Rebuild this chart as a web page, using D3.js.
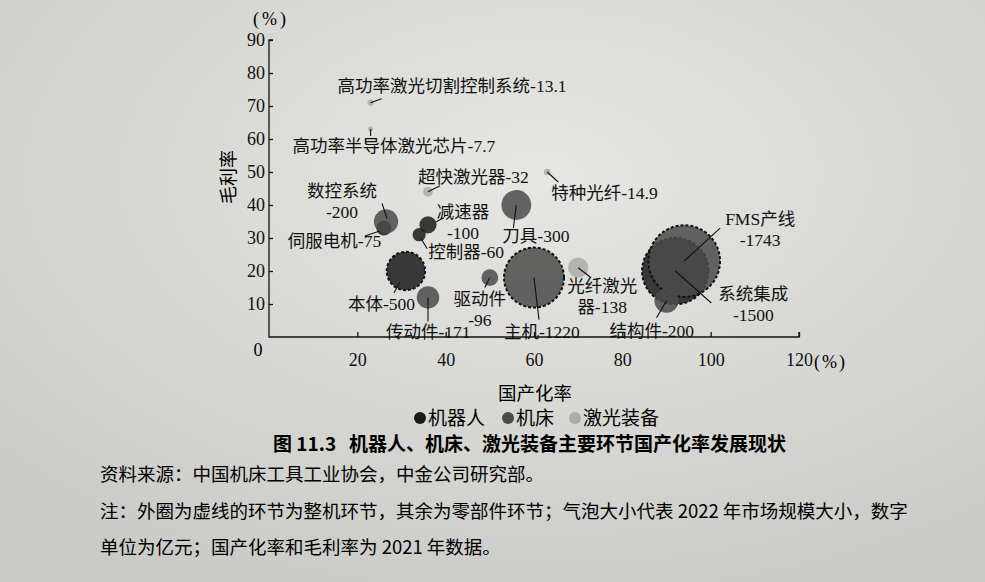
<!DOCTYPE html>
<meta charset="utf-8">
<style>
body { margin: 0; background: #d9d9d5; }
svg { display: block; }
.tick text { font: 18px "Liberation Serif", serif; fill: #111; }
.lbl { font: 17.5px "Liberation Serif", "Noto Sans CJK SC", sans-serif; fill: #111; }
.axis line { stroke: #111; stroke-width: 1.3px; }
.axis .domain { display: none; }
</style>
<body>
<script src="https://d3js.org/d3.v7.min.js"></script>
<script>
// data: name, domestic rate (%), gross margin (%), market size 2022 (亿元), group, whole-machine?
var names   = ["本体", "系统集成", "减速器", "控制器", "伺服电机",
               "数控系统", "传动件", "驱动件", "主机", "刀具", "FMS产线", "结构件",
               "光纤激光器", "高功率激光切割控制系统", "高功率半导体激光芯片", "超快激光器", "特种光纤"];
var rate    = [31, 92, 36, 34, 26,  26.5, 36, 50, 60, 56, 94, 90,  70, 23, 23, 36, 63];
var margin_ = [20, 20, 34, 31, 33,  35, 12, 18, 18, 40, 23, 11,  21, 71, 63, 44, 50];
var sizes   = [500, 1500, 100, 60, 75,  200, 171, 96, 1220, 300, 1743, 200,  138, 13.1, 7.7, 32, 14.9];
var groups  = ["机器人", "机器人", "机器人", "机器人", "机器人",
               "机床", "机床", "机床", "机床", "机床", "机床", "机床",
               "激光装备", "激光装备", "激光装备", "激光装备", "激光装备"];
var whole   = [1, 1, 0, 0, 0,  0, 0, 0, 1, 0, 1, 0,  0, 0, 0, 0, 0];
var categories = ["机器人", "机床", "激光装备"];
var xTicks = [20, 40, 60, 80, 100, 120];
var yTicks = [10, 20, 30, 40, 50, 60, 70, 80, 90];

// label layout: text lines, text offset from bubble centre, anchor, leader line offsets
var labelLayout = {
  "高功率激光切割控制系统": {lines: ["高功率激光切割控制系统-13.1"], dx: -33, dy: -11, a: "start", lead: [0, 0, 11, -4]},
  "高功率半导体激光芯片": {lines: ["高功率半导体激光芯片-7.7"], dx: -78, dy: 23, a: "start", lead: [0, 0, 0, 7]},
  "超快激光器": {lines: ["超快激光器-32"], dx: -10, dy: -9, a: "start", lead: [0, 0, 12, -6]},
  "特种光纤": {lines: ["特种光纤-14.9"], dx: 4, dy: 27, a: "start", lead: [0, 0, 11, 10]},
  "数控系统": {lines: ["数控系统", "-200"], dx: -44, dy: -25, a: "middle", lead: [-4, -18, 1, -3]},
  "伺服电机": {lines: ["伺服电机-75"], dx: -96, dy: 19, a: "start", lead: [-19, 8, -4, 3]},
  "减速器": {lines: ["减速器", "-100"], dx: 35, dy: -7, a: "middle", lead: [8, -3, 16, -7]},
  "控制器": {lines: ["控制器-60"], dx: 9, dy: 23, a: "start", lead: [2, 4, 8, 14]},
  "本体": {lines: ["本体-500"], dx: -58, dy: 39, a: "start", lead: [-6, 11, -12, 22]},
  "传动件": {lines: ["传动件-171"], dx: -42, dy: 41, a: "start", lead: [0, 0, 0, 24]},
  "驱动件": {lines: ["驱动件", "-96"], dx: -10, dy: 27, a: "middle", lead: [0, 0, -5, 10]},
  "主机": {lines: ["主机-1220"], dx: -30, dy: 60, a: "start", lead: [0, 0, 5, 42]},
  "刀具": {lines: ["刀具-300"], dx: -14, dy: 37, a: "start", lead: [0, 0, -3, 23]},
  "光纤激光器": {lines: ["光纤激光", "器-138"], dx: 24, dy: 24, a: "middle", lead: [0, 0, 13, 10]},
  "FMS产线": {lines: ["FMS产线", "-1743"], dx: 76, dy: -36, a: "middle", lead: [0, 0, 36, -33]},
  "系统集成": {lines: ["系统集成", "-1500"], dx: 78, dy: 29, a: "middle", lead: [0, 0, 36, 32]},
  "结构件": {lines: ["结构件-200"], dx: -57, dy: 36, a: "start", lead: [0, 0, -10, 17]}
};

var W = 985, H = 582;
var svg = d3.select("body").append("svg").attr("width", W).attr("height", H);

// paper-like background
var grad = svg.append("defs").append("radialGradient").attr("id", "paper")
    .attr("cx", "0.55").attr("cy", "0.3").attr("r", "0.8");
grad.append("stop").attr("offset", "0%").attr("stop-color", "#e6e6e2");
grad.append("stop").attr("offset", "100%").attr("stop-color", "#c9c9c5");
svg.append("rect").attr("width", W).attr("height", H).attr("fill", "url(#paper)");

var x = d3.scaleLinear().domain([0, 120]).range([269, 799]);
var y = d3.scaleLinear().domain([0, 90]).range([337, 40]);
var r = d3.scaleSqrt().domain([0, 1220]).range([0, 30]);
var color = d3.scaleOrdinal().domain(categories).range(["#1b1b1b", "#4b4b4b", "#aaaaa8"]);

// axes
svg.append("g").attr("class", "axis")
    .attr("transform", "translate(0," + y(0) + ")")
    .call(d3.axisBottom(x).tickValues(xTicks).tickSize(-5).tickPadding(16));
svg.append("g").attr("class", "axis")
    .attr("transform", "translate(" + x(0) + ",0)")
    .call(d3.axisLeft(y).tickValues(yTicks).tickSize(-4).tickPadding(4));
svg.append("path")
    .attr("d", "M" + (x(0) + 4) + "," + y(90) + "H" + x(0) + "V" + y(0) + "H" + x(120) + "V" + (y(0) - 5))
    .attr("fill", "none").attr("stroke", "#111").attr("stroke-width", 1.3);

svg.append("text").attr("x", x(0) - 11).attr("y", y(0) + 19)
    .attr("text-anchor", "middle").style("font", "18px 'Liberation Serif', serif").text("0");
svg.append("text").attr("x", x(120) + 15).attr("y", y(0) + 31)
    .style("font", "18px 'Liberation Serif', serif").style("letter-spacing", "2px").text("(%)");
svg.append("text").attr("x", 271).attr("y", 25).attr("text-anchor", "middle")
    .style("font", "18px 'Liberation Serif', serif").style("letter-spacing", "3px").text("(%)");
svg.append("text").attr("x", 535).attr("y", 400).attr("text-anchor", "middle")
    .style("font", "18.5px 'Noto Sans CJK SC', sans-serif").text("国产化率");
svg.append("text").attr("transform", "translate(235,177) rotate(-90)").attr("text-anchor", "middle")
    .style("font", "18px 'Noto Sans CJK SC', sans-serif").text("毛利率");

// bubbles
var data = names.map(function(n, i) {
  return {name: n, x: rate[i], y: margin_[i], v: sizes[i], g: groups[i], whole: whole[i]};
});
var drawOrder = data.slice().sort(function(a, b) {
  return categories.indexOf(a.g) - categories.indexOf(b.g);
});
svg.append("g").selectAll("circle").data(drawOrder).enter().append("circle")
    .attr("cx", function(d) { return x(d.x); })
    .attr("cy", function(d) { return y(d.y); })
    .attr("r", function(d) { return Math.max(r(d.v), 2.5); })
    .attr("fill", function(d) { return color(d.g); })
    .attr("fill-opacity", 0.85)
    .attr("stroke", function(d) { return d.whole ? "#111" : "none"; })
    .attr("stroke-width", 2)
    .attr("stroke-dasharray", "3,2");

// leader lines and labels
data.forEach(function(d) {
  var L = labelLayout[d.name];
  var cx = x(d.x), cy = y(d.y);
  svg.append("line")
      .attr("x1", cx + L.lead[0]).attr("y1", cy + L.lead[1])
      .attr("x2", cx + L.lead[2]).attr("y2", cy + L.lead[3])
      .attr("stroke", "#111").attr("stroke-width", 1.1);
  var t = svg.append("text").attr("class", "lbl").attr("text-anchor", L.a)
      .attr("x", cx + L.dx).attr("y", cy + L.dy);
  L.lines.forEach(function(s, k) {
    t.append("tspan").attr("x", cx + L.dx).attr("dy", k ? 21 : 0).text(s);
  });
});

// legend
var leg = svg.append("g").attr("transform", "translate(420,418)");
var legX = [0, 88, 155];
categories.forEach(function(c, i) {
  leg.append("circle").attr("cx", legX[i]).attr("cy", 0).attr("r", 6).attr("fill", color(c));
  leg.append("text").attr("x", legX[i] + 8).attr("y", 7)
      .style("font", "19px 'Noto Sans CJK SC', sans-serif").text(c);
});

// caption and notes
svg.append("text").attr("x", 273).attr("y", 451)
    .style("font", "bold 19px 'Noto Sans CJK SC', sans-serif")
    .style("white-space", "pre")
    .text("图 11.3   机器人、机床、激光装备主要环节国产化率发展现状");
var noteFont = "18.5px 'Noto Sans CJK SC', sans-serif";
svg.append("text").attr("x", 100).attr("y", 481).style("font", noteFont)
    .text("资料来源：中国机床工具工业协会，中金公司研究部。");
svg.append("text").attr("x", 100).attr("y", 518).style("font", noteFont)
    .text("注：外圈为虚线的环节为整机环节，其余为零部件环节；气泡大小代表 2022 年市场规模大小，数字");
svg.append("text").attr("x", 100).attr("y", 554).style("font", noteFont)
    .text("单位为亿元；国产化率和毛利率为 2021 年数据。");
</script>
</body>
